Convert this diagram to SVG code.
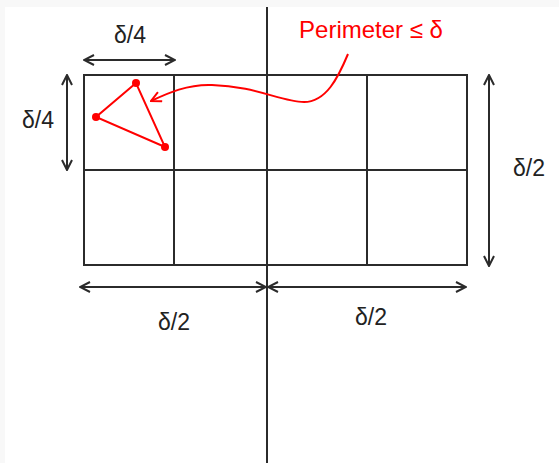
<svg xmlns="http://www.w3.org/2000/svg" width="559" height="463" viewBox="0 0 559 463">
<style>
.g{fill:none;stroke:#2b2b2b;stroke-width:2}
.d{fill:none;stroke:#2b2b2b;stroke-width:2;marker-start:url(#ah);marker-end:url(#ah)}
.t{font-family:"Liberation Sans",Arial,sans-serif;font-size:23px;fill:#222;text-anchor:middle}
.r{fill:none;stroke:#f00;stroke-width:2}
</style>
<defs>
<marker id="ah" viewBox="0 0 12 12" refX="11" refY="6" markerWidth="12" markerHeight="12" markerUnits="userSpaceOnUse" orient="auto-start-reverse">
<path d="M1,1 L11,6 L1,11" fill="none" stroke="#2b2b2b" stroke-width="2"/>
</marker>
<marker id="rh" viewBox="0 0 12 12" refX="11" refY="6" markerWidth="12" markerHeight="12" markerUnits="userSpaceOnUse" orient="auto">
<path d="M1,1 L11,6 L1,11" fill="none" stroke="#f00" stroke-width="2"/>
</marker>
</defs>
<rect width="559" height="463" fill="#f8f8f8"/>
<rect x="5" y="7" width="554" height="456" fill="#fff"/>
<g id="grid">
<rect class="g" x="84" y="75" width="383" height="190"/>
<line class="g" x1="84" y1="170" x2="467" y2="170"/>
<line class="g" x1="174" y1="75" x2="174" y2="265"/>
<line class="g" x1="367" y1="75" x2="367" y2="265"/>
</g>
<g id="divider"><line class="g" x1="267" y1="7" x2="267" y2="463"/></g>
<g id="triangle">
<polygon points="136,83 96,117 165,147" fill="none" stroke="#f00" stroke-width="2"/>
<circle cx="136" cy="83" r="4" fill="#f00"/>
<circle cx="96" cy="117" r="4" fill="#f00"/>
<circle cx="165" cy="147" r="4" fill="#f00"/>
</g>
<g id="connectors">
<line class="d" x1="84" y1="60" x2="175" y2="60"/>
<line class="d" x1="67" y1="75" x2="67" y2="170"/>
<line class="d" x1="489" y1="75" x2="489" y2="266"/>
<line class="d" x1="80" y1="287" x2="266" y2="287"/>
<line class="d" x1="268" y1="287" x2="466" y2="287"/>
<path class="r" d="M348,54 C338,78 326,102 304,102 C282,102 255,86 212,85 C188,84 168,93 151,101" marker-end="url(#rh)"/>
</g>
<g id="labels">
<text class="t" x="130" y="43">δ/4</text>
<text class="t" x="38" y="128">δ/4</text>
<text class="t" x="529" y="176">δ/2</text>
<text class="t" x="174" y="330">δ/2</text>
<text class="t" x="371" y="325">δ/2</text>
<text class="t" x="371" y="38" style="fill:#f00;font-size:24px">Perimeter ≤ δ</text>
</g>
</svg>
